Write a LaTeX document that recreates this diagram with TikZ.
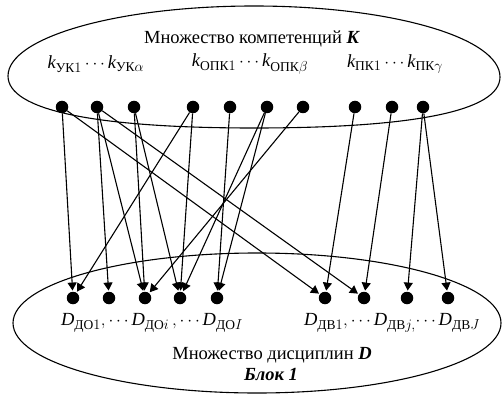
\documentclass[tikz,border=0pt]{standalone}
\usepackage{amsmath}
\usepackage{fontspec}
\setmainfont{Liberation Serif}
\DeclareMathSizes{18.5}{18.5}{13.5}{10}
\usetikzlibrary{arrows.meta}
\begin{document}
\begin{tikzpicture}[x=1pt,y=-1pt,
  dot/.style={circle,fill=black,inner sep=0pt,minimum size=12.5pt},
  conn/.style={-{Triangle[length=8pt,width=9pt]},line width=1.1pt,shorten >=1pt},
  lbl/.style={font=\fontsize{18.5}{21}\selectfont,inner sep=0pt},
  ell/.style={draw,line width=1.1pt}]
\useasboundingbox (0,0) rectangle (502,395);
\draw[ell] (8,76) .. controls (8,37.3) and (118,6) .. (254,6)
  .. controls (390,6) and (500,37.3) .. (500,77)
  .. controls (500,111) and (414,128) .. (254,128)
  .. controls (94,128) and (8,110) .. (8,76) -- cycle;
\draw[ell] (257,323) ellipse [x radius=244pt,y radius=70pt];
\node[lbl] (ktitle) at (252,39) {Множество компетенций \textbf{\textit{K}}};
\node[lbl] (ka) at (96,64) {$\textit{k}_{\text{УК}1}\,{\cdots}\,\textit{k}_{\text{УК}\alpha}$};
\node[lbl] (kb) at (250,64) {$\textit{k}_{\text{ОПК}1}\,{\cdots}\,\textit{k}_{\text{ОПК}\beta}$};
\node[lbl] (kc) at (395,64) {$\textit{k}_{\text{ПК}1}\,{\cdots}\,\textit{k}_{\text{ПК}\gamma}$};
\node[lbl] (da) at (152,323) {$\textit{D}_{\text{ДО}1},{\cdots}\,\textit{D}_{\text{ДО}i}\,,{\cdots}\,\textit{D}_{\text{ДО}I}$};
\node[lbl] (db) at (392,323) {$\textit{D}_{\text{ДВ}1},{\cdots}\,\textit{D}_{\text{ДВ}j,}{\cdots}\,\textit{D}_{\text{ДВ}J}$};
\node[lbl] (dtitle) at (272,355) {Множество дисциплин \textbf{\textit{D}}};
\node[lbl] (blok) at (271,374) {\textbf{\textit{Блок 1}}};
\foreach \i/\x in {1/62,2/97,3/134,4/193,5/230,6/267,7/303,8/355,9/392,10/423}
  \node[dot] (t\i) at (\x,107) {};
\foreach \i/\x in {1/73,2/109,3/145,4/180,5/217,6/325,7/364,8/407,9/448}
  \node[dot] (b\i) at (\x,298) {};
\foreach \s/\e in {1/1,1/6,2/2,2/3,2/7,3/3,3/4,4/1,4/4,5/5,6/4,6/5,7/3,8/6,9/7,10/8,10/9}
  \draw[conn] (t\s) -- (b\e);
\end{tikzpicture}
\end{document}
